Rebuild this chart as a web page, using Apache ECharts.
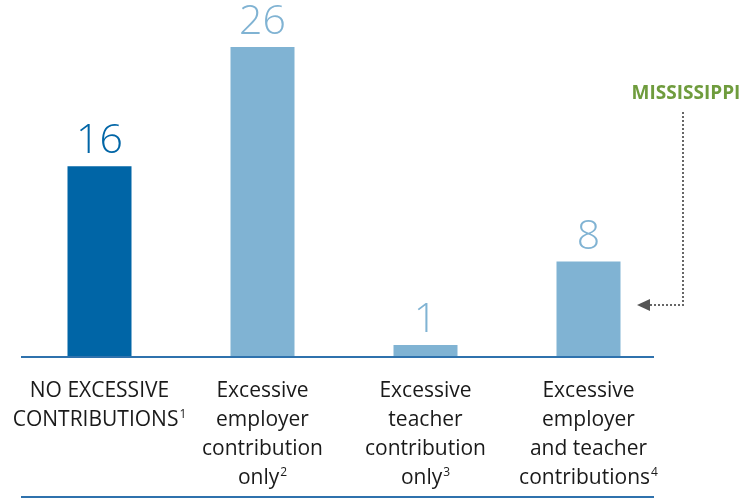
<!DOCTYPE html>
<html>
<head>
<meta charset="utf-8">
<script src="https://cdn.jsdelivr.net/npm/echarts@6/dist/echarts.min.js"></script>
<style>
  html, body { margin: 0; padding: 0; background: #fff; }
  #chart { width: 742px; height: 502px; }
</style>
</head>
<body>
<div id="chart"></div>
<script>
// Category labels (rich-text markup with superscript footnote numbers)
const categories = [
  'NO EXCESSIVE\nCONTRIBUTIONS{s|1}',
  'Excessive\nemployer\ncontribution\nonly{s|2}',
  'Excessive\nteacher\ncontribution\nonly{s|3}',
  'Excessive\nemployer\nand teacher\ncontributions{s|4}'
];
const counts = [16, 26, 1, 8];
const highlighted = [true, false, false, false];
const calloutText = 'MISSISSIPPI';

const DARK = '#0065a6';
const LIGHT = '#80b3d3';
const FONT = '"Open Sans", "Noto Sans", sans-serif';

const chart = echarts.init(document.getElementById('chart'));

const seriesData = counts.map((v, i) => ({
  value: v,
  itemStyle: { color: highlighted[i] ? DARK : LIGHT },
  label: { color: highlighted[i] ? DARK : LIGHT }
}));

chart.setOption({
  animation: false,
  grid: { left: 18, right: 72, top: 47, bottom: 145 },
  xAxis: {
    type: 'category',
    data: categories,
    axisLine: { show: false },
    axisTick: { show: false },
    axisLabel: {
      interval: 0,
      margin: 20,
      color: '#1a1a1a',
      fontFamily: FONT,
      fontSize: 21,
      lineHeight: 29,
      align: 'center',
      rich: {
        s: { fontSize: 12, fontFamily: FONT, color: '#1a1a1a', lineHeight: 29, padding: [0, 0, 11, 1] }
      }
    }
  },
  yAxis: {
    type: 'value',
    min: 0,
    max: 26,
    show: false,
    splitLine: { show: false }
  },
  series: [{
    type: 'bar',
    data: seriesData,
    barWidth: 64,
    label: {
      show: true,
      position: 'top',
      distance: 4,
      fontFamily: FONT,
      fontSize: 41,
      fontWeight: 300
    }
  }],
  graphic: [
    { type: 'line', shape: { x1: 21, y1: 357, x2: 654, y2: 357 },
      style: { stroke: '#2f72ad', lineWidth: 2 }, z: 10 },
    { type: 'line', shape: { x1: 21, y1: 497, x2: 654, y2: 497 },
      style: { stroke: '#2f72ad', lineWidth: 2 }, z: 10 },
    { type: 'text', x: 686, y: 94,
      style: { text: calloutText, fill: '#6f9c3d', font: 'bold 19px ' + FONT,
               textAlign: 'center', textVerticalAlign: 'middle' } },
    { type: 'polyline', shape: { points: [[683, 112], [683, 305], [650, 305]] },
      style: { stroke: '#666', lineWidth: 2, lineDash: [2, 2], fill: null } },
    { type: 'polygon', shape: { points: [[637, 305], [650, 299], [650, 311]] },
      style: { fill: '#555' } }
  ]
});
</script>
</body>
</html>
